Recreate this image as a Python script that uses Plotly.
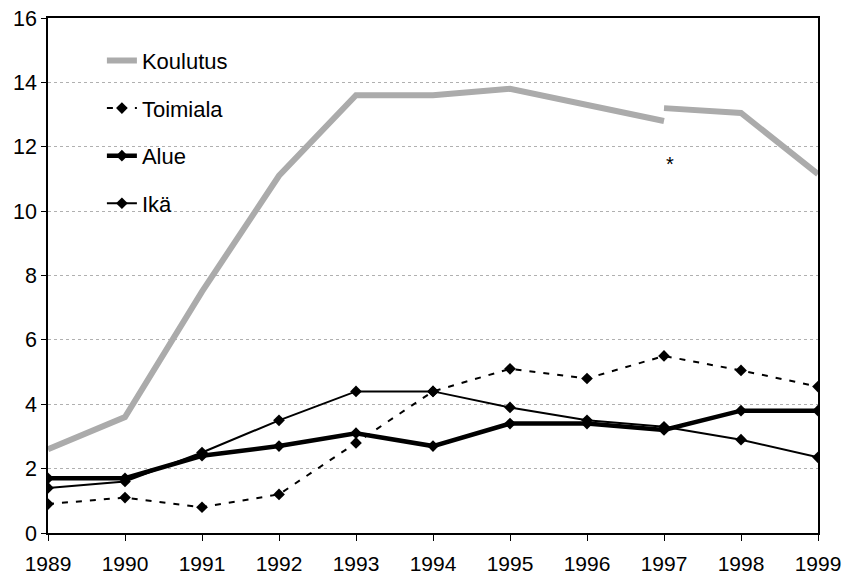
import plotly.graph_objects as go

# ---- Data -------------------------------------------------------------------

years = [1989, 1990, 1991, 1992, 1993, 1994, 1995, 1996, 1997, 1998, 1999]

# Koulutus series is broken at 1997 (classification change, marked with *)
koulutus_years_a = [1989, 1990, 1991, 1992, 1993, 1994, 1995, 1996, 1997]
koulutus_a = [2.6, 3.6, 7.5, 11.1, 13.6, 13.6, 13.8, 13.3, 12.8]
koulutus_years_b = [1997, 1998, 1999]
koulutus_b = [13.2, 13.05, 11.15]

toimiala = [0.9, 1.1, 0.8, 1.2, 2.8, 4.4, 5.1, 4.8, 5.5, 5.05, 4.55]
alue = [1.7, 1.7, 2.4, 2.7, 3.1, 2.7, 3.4, 3.4, 3.2, 3.8, 3.8]
ika = [1.4, 1.6, 2.5, 3.5, 4.4, 4.4, 3.9, 3.5, 3.3, 2.9, 2.35]

y_ticks = [0, 2, 4, 6, 8, 10, 12, 14, 16]
note_year, note_value, note_text = 1997, 11.6, "*"

FONT = "Liberation Sans, Arial, sans-serif"
GRAY = "#ababab"

# ---- Figure -----------------------------------------------------------------

fig = go.Figure()

fig.add_trace(go.Scatter(
    x=koulutus_years_a, y=koulutus_a, mode="lines", name="Koulutus",
    line=dict(color=GRAY, width=6), legendgroup="k",
))
fig.add_trace(go.Scatter(
    x=koulutus_years_b, y=koulutus_b, mode="lines", name="Koulutus",
    line=dict(color=GRAY, width=6), legendgroup="k", showlegend=False,
))
fig.add_trace(go.Scatter(
    x=years, y=toimiala, mode="lines+markers", name="Toimiala",
    line=dict(color="black", width=2, dash="6px,8px"),
    marker=dict(symbol="diamond", size=9, color="black"), legendgroup="t",
))
fig.add_trace(go.Scatter(
    x=years, y=alue, mode="lines+markers", name="Alue",
    line=dict(color="black", width=4.5),
    marker=dict(symbol="diamond", size=9, color="black"), legendgroup="a",
))
fig.add_trace(go.Scatter(
    x=years, y=ika, mode="lines+markers", name="Ikä",
    line=dict(color="black", width=2),
    marker=dict(symbol="diamond", size=9, color="black"), legendgroup="i",
))

fig.add_annotation(
    x=note_year, y=note_value, text=note_text, showarrow=False,
    font=dict(size=20, color="black", family=FONT), yshift=-4, xshift=6,
)

fig.update_layout(
    width=842, height=578,
    paper_bgcolor="white", plot_bgcolor="white",
    margin=dict(l=48, r=24, t=18, b=45),
    font=dict(family=FONT, size=22, color="black"),
    showlegend=True,
    legend=dict(
        x=0.07, y=0.958, xanchor="left", yanchor="top",
        bgcolor="rgba(0,0,0,0)", tracegroupgap=16,
        font=dict(size=22, family=FONT),
    ),
)

fig.update_xaxes(
    range=[1989, 1999], tickmode="array", tickvals=years,
    ticktext=[str(y) for y in years], automargin=False,
    tickfont=dict(size=21), ticklabelstandoff=5,
    showgrid=False, showline=True, linecolor="black", linewidth=1.5,
    mirror=True, ticks="outside", ticklen=6, tickcolor="black",
    zeroline=False,
)
fig.update_yaxes(
    range=[0, 16], tickmode="array", tickvals=y_ticks, automargin=False,
    tickfont=dict(size=21.5),
    showgrid=True, gridcolor="#b0b0b0", griddash="dot", gridwidth=1,
    showline=True, linecolor="black", linewidth=1.5, mirror=True,
    ticks="outside", ticklen=5, tickcolor="black", zeroline=False,
)

# drop the page's default body margin so the figure fills the window exactly
fig.write_html(
    "out.html",
    config={"displayModeBar": False},
    post_script="document.body.style.margin='0';document.body.style.overflow='hidden';",
)
